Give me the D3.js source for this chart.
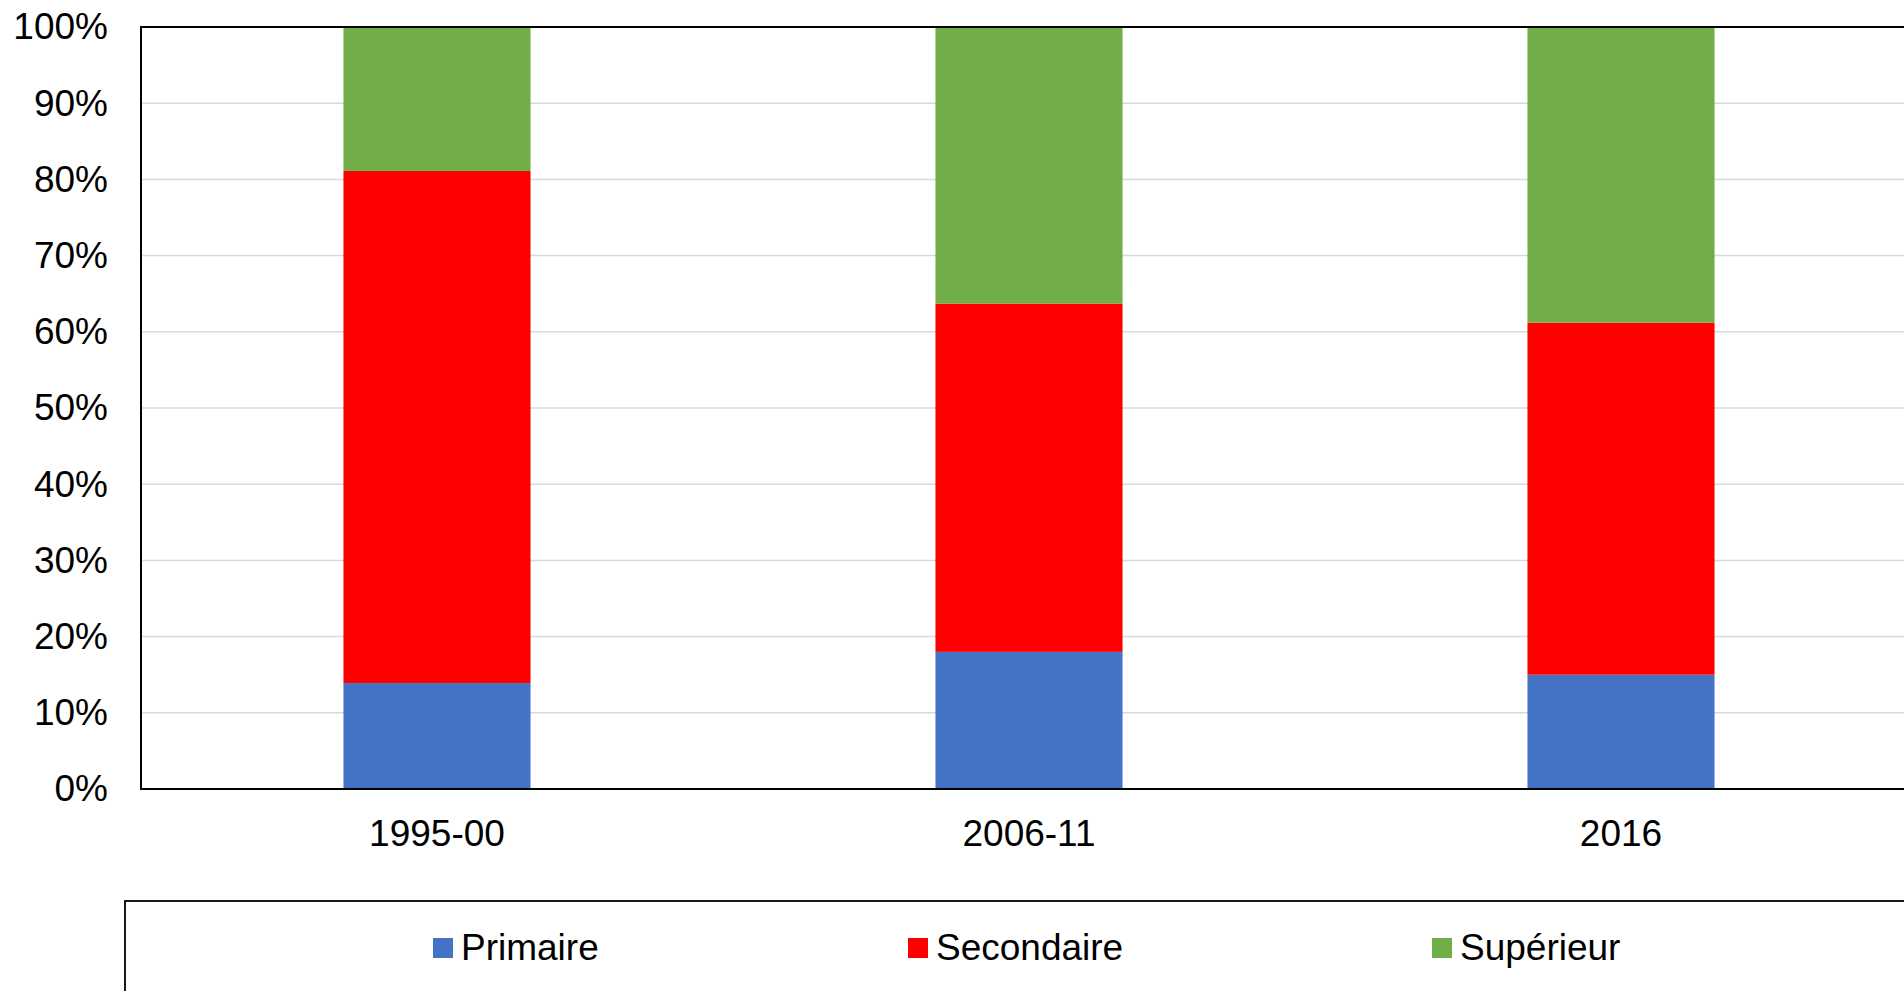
<!DOCTYPE html>
<html>
<head>
<meta charset="utf-8">
<script src="https://cdn.jsdelivr.net/npm/d3@7"></script>
<style>
html,body{margin:0;padding:0;background:#fff;overflow:hidden;}
svg{display:block;font-family:"Liberation Sans",Arial,sans-serif;}
</style>
</head>
<body>
<svg id="chart" width="1904" height="991"></svg>
<script>
const categories = ["1995-00", "2006-11", "2016"];
const seriesNames = ["Primaire", "Secondaire", "Supérieur"];
const primaire = [13.9, 18.0, 15.0];
const secondaire = [67.2, 45.7, 46.2];
const superieur = [18.9, 36.3, 38.8];
const colors = ["#4472C4", "#FF0000", "#70AD47"];
const yTicks = [0, 10, 20, 30, 40, 50, 60, 70, 80, 90, 100];

(function () {
const svg = d3.select("#chart");
const pLeft = 141, pTop = 27, pBottom = 789, pRight = 1917;

const x = d3.scaleBand().domain(categories).range([pLeft, pRight])
  .paddingInner(0.684).paddingOuter(0.342);
const y = d3.scaleLinear().domain([0, 100]).range([pBottom, pTop]);

// gridlines
svg.append("g").selectAll("line").data(yTicks.filter(t => t > 0 && t < 100)).join("line")
  .attr("x1", pLeft).attr("x2", pRight)
  .attr("y1", d => y(d)).attr("y2", d => y(d))
  .attr("stroke", "#d9d9d9").attr("stroke-width", 1.5);

// stacked data
const rows = categories.map((c, i) => ({cat: c, Primaire: primaire[i], Secondaire: secondaire[i], "Supérieur": superieur[i]}));
const stack = d3.stack().keys(seriesNames)(rows);

svg.append("g").selectAll("g").data(stack).join("g")
  .attr("fill", (d, i) => colors[i])
  .selectAll("rect").data(d => d).join("rect")
  .attr("x", d => x(d.data.cat))
  .attr("width", x.bandwidth())
  .attr("y", d => y(Math.min(100, d[1])))
  .attr("height", d => y(d[0]) - y(Math.min(100, d[1])));

// plot border: top, left, bottom
svg.append("path")
  .attr("d", `M${pRight},${pTop}H${pLeft}V${pBottom}H${pRight}`)
  .attr("fill", "none").attr("stroke", "#000").attr("stroke-width", 2);

// y axis labels
const yAxis = d3.axisLeft(y).tickValues(yTicks).tickFormat(d => d + "%").tickSize(0).tickPadding(33);
const gy = svg.append("g").attr("transform", `translate(${pLeft},0)`).call(yAxis);
gy.select(".domain").remove();
gy.selectAll("text").attr("font-size", 37).attr("fill", "#000")
  .attr("font-family", "'Liberation Sans', Arial, sans-serif");

// x axis labels
const xAxis = d3.axisBottom(x).tickSize(0).tickPadding(0);
const gx = svg.append("g").attr("transform", `translate(0,${pBottom})`).call(xAxis);
gx.select(".domain").remove();
gx.selectAll("text").attr("font-size", 37).attr("fill", "#000")
  .attr("dy", null).attr("y", 57)
  .attr("font-family", "'Liberation Sans', Arial, sans-serif");

// legend
svg.append("rect").attr("x", 125).attr("y", 901).attr("width", 1900).attr("height", 200)
  .attr("fill", "none").attr("stroke", "#000").attr("stroke-width", 1.8);
const legendX = [433, 908, 1432];
const lg = svg.append("g").selectAll("g").data(seriesNames).join("g")
  .attr("transform", (d, i) => `translate(${legendX[i]},938)`);
lg.append("rect").attr("width", 20).attr("height", 20).attr("fill", (d, i) => colors[i]);
lg.append("text").attr("x", 28).attr("y", 22).attr("font-size", 37).attr("fill", "#000").text(d => d);
})();
</script>
</body>
</html>
